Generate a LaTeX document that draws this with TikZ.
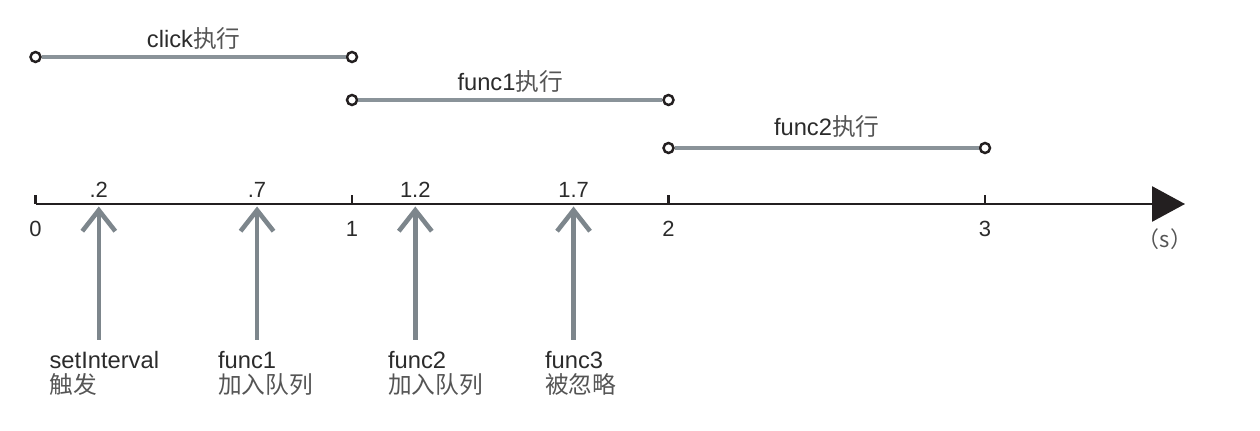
\documentclass[tikz,border=0pt]{standalone}
\usepackage{fontspec}
\setmainfont{Liberation Sans}
\newfontfamily\cjk{Noto Sans CJK SC}
\usetikzlibrary{arrows.meta,positioning}
\definecolor{axisblack}{HTML}{231F20}
\definecolor{bargray}{HTML}{8A9399}
\definecolor{upgray}{HTML}{7D868C}
\definecolor{txtgray}{HTML}{2B2B2B}
\definecolor{zhgray}{HTML}{555555}
\newcommand{\zhtext}[1]{{\cjk\color{zhgray}#1}}
\tikzset{
  dot/.style={circle, draw=axisblack, fill=white, line width=1.4pt, inner sep=0pt, minimum size=0.2cm},
  bar/.style={bargray, line width=2pt},
  upline/.style={upgray, line width=2.6pt, -{Straight Barb[length=0.42cm, width=0.66cm]}},
  lbl/.style={font=\fontsize{13.5}{14.5}\selectfont, text=txtgray, inner sep=1pt},
  num/.style={font=\fontsize{12.5}{14}\selectfont, text=txtgray, inner sep=1pt},
}
\begin{document}
\begin{tikzpicture}
    \useasboundingbox (0,0) rectangle (25.2,8.6);
    % time axis
    \foreach \t in {0,1,2,3} {
        \coordinate (t\t) at ({0.71+6.33*\t},4.52);
        \draw[axisblack, line width=1.4pt] (t\t) -- ++(0,0.17);
        \node[num, below=0.3cm of t\t] (n\t) {\t};
    }
    \coordinate (axisend) at (23.7,4.52);
    \draw[axisblack, line width=1.6pt, -{Triangle[length=0.66cm, width=0.7cm]}] (t0) -- (axisend);
    \node[lbl, font=\fontsize{12.5}{14}\selectfont] (unit) at (23.3,3.82) {\zhtext{（s）}};
    % execution bars
    \node[dot] (clickA) at (0.71,7.46) {};
    \node[dot] (clickB) at (7.04,7.46) {};
    \draw[bar] (clickA) -- node[lbl, above=2pt] {click\zhtext{执行}} (clickB);
    \node[dot] (funcAa) at (7.04,6.6) {};
    \node[dot] (funcAb) at (13.37,6.6) {};
    \draw[bar] (funcAa) -- node[lbl, above=2pt] {func1\zhtext{执行}} (funcAb);
    \node[dot] (funcBa) at (13.37,5.64) {};
    \node[dot] (funcBb) at (19.7,5.64) {};
    \draw[bar] (funcBa) -- node[lbl, above=4pt] {func2\zhtext{执行}} (funcBb);
    % interval ticks
    \foreach \t/\tag in {0.2/a,0.7/b,1.2/c,1.7/d} {
        \coordinate (tip\tag) at ({0.71+6.33*\t},4.47);
        \coordinate (base\tag) at ({0.71+6.33*\t},1.8);
        \draw[upline] (base\tag) -- (tip\tag);
    }
    \node[num, above=0.14cm of tipa] (la) {.2};
    \node[num, above=0.14cm of tipb] (lb) {.7};
    \node[num, above=0.14cm of tipc] (lc) {1.2};
    \node[num, above=0.14cm of tipd] (ld) {1.7};
    % what happens
    \node[lbl, anchor=north west, align=left] (setI) at (0.95,1.62) {setInterval\\\zhtext{触发}};
    \node[lbl, anchor=north west, align=left] (fA) at (4.32,1.62) {func1\\\zhtext{加入队列}};
    \node[lbl, anchor=north west, align=left] (fB) at (7.72,1.62) {func2\\\zhtext{加入队列}};
    \node[lbl, anchor=north west, align=left] (fC) at (10.86,1.62) {func3\\\zhtext{被忽略}};
\end{tikzpicture}
\end{document}
